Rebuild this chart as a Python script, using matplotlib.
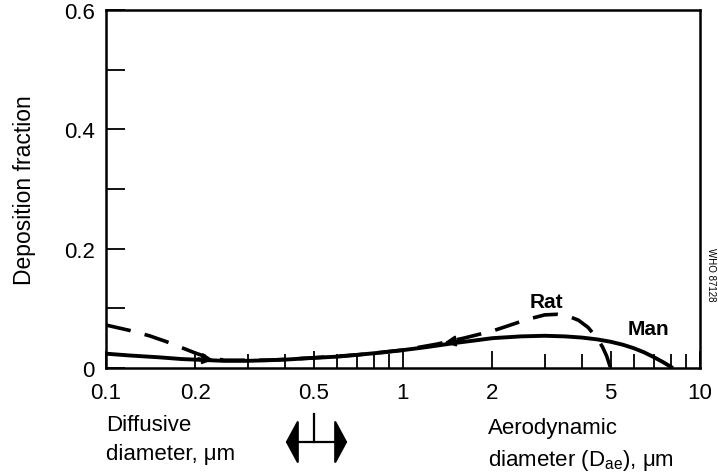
import matplotlib
matplotlib.use('Agg')
import matplotlib.pyplot as plt
import numpy as np

# ── data ──
man_d = [0.1, 0.12, 0.15, 0.18, 0.2, 0.25, 0.3, 0.35, 0.4, 0.5, 0.6, 0.7, 0.85, 1.0, 1.2, 1.5, 1.8, 2.0, 2.5,
         3.0, 3.5, 4.0, 4.5, 5.0, 5.5, 6.0, 6.5, 7.0, 7.5, 8.1]
man_f = [0.024, 0.021, 0.018, 0.015, 0.014, 0.012, 0.012, 0.013, 0.014, 0.017, 0.019, 0.022, 0.026, 0.030, 0.035,
         0.042, 0.047, 0.050, 0.053, 0.054, 0.053, 0.051, 0.048, 0.044, 0.039, 0.033, 0.026, 0.018, 0.010, 0.0]

rat_d = [0.1, 0.12, 0.14, 0.16, 0.18, 0.2, 0.22, 0.25, 0.35, 0.5, 0.7, 1.0, 1.3, 1.6, 2.0, 2.3, 2.6, 3.0, 3.3,
         3.6, 3.9, 4.2, 4.5, 4.7, 4.85, 5.0]
rat_f = [0.072, 0.063, 0.054, 0.044, 0.034, 0.025, 0.018, 0.013, 0.013, 0.017, 0.022, 0.030, 0.040, 0.050, 0.062,
         0.072, 0.081, 0.089, 0.090, 0.087, 0.080, 0.068, 0.050, 0.035, 0.020, 0.0]

xticks = [0.1, 0.2, 0.5, 1, 2, 5, 10]
xticklabels = ['0.1', '0.2', '0.5', '1', '2', '5', '10']
yticks = [0, 0.2, 0.4, 0.6]
yticklabels = ['0', '0.2', '0.4', '0.6']

plt.rcParams['font.family'] = ['Liberation Sans', 'DejaVu Sans']
plt.rcParams['mathtext.fontset'] = 'custom'
plt.rcParams['mathtext.rm'] = 'Liberation Sans'

fig = plt.figure(figsize=(7.18, 4.77), dpi=100)
ax = fig.add_axes([106 / 718, 1 - 369 / 477, 594 / 718, 358 / 477])

ax.plot(man_d, man_f, color='black', lw=2.8, solid_capstyle='butt', solid_joinstyle='round')
ax.plot(rat_d, rat_f, color='black', lw=2.6, dashes=(7, 4))

# arrow heads on the rat curve
ax.annotate('', xy=(0.235, 0.013), xytext=(0.2, 0.017),
            arrowprops=dict(arrowstyle='-|>', color='black', lw=1.5, mutation_scale=16))
ax.annotate('', xy=(1.35, 0.042), xytext=(1.6, 0.047),
            arrowprops=dict(arrowstyle='-|>', color='black', lw=1.5, mutation_scale=16))

ax.text(3.05, 0.112, 'Rat', ha='center', va='center', fontsize=15, fontweight='bold')
ax.text(6.7, 0.066, 'Man', ha='center', va='center', fontsize=15, fontweight='bold')

ax.set_xscale('log')
ax.set_xlim(0.1, 10)
ax.set_ylim(0, 0.6)
ax.set_xticks(xticks)
ax.set_xticklabels(xticklabels)
ax.set_xticks([0.3, 0.4, 0.6, 0.7, 0.8, 0.9, 3, 4, 6, 7, 8, 9], minor=True)
ax.set_yticks(yticks)
ax.set_yticklabels(yticklabels)
ax.set_yticks([0.1, 0.3, 0.5], minor=True)
ax.tick_params(axis='both', which='both', direction='in', width=1.3, labelsize=16, colors='black')
ax.tick_params(axis='y', which='both', length=14, pad=8)
ax.tick_params(axis='x', which='major', length=12, pad=10)
ax.tick_params(axis='x', which='minor', length=10)
ax.xaxis.set_minor_formatter(matplotlib.ticker.NullFormatter())
for s in ax.spines.values():
    s.set_linewidth(1.8)

ax.set_ylabel('Deposition fraction', fontsize=16.5, labelpad=20)

# text and marker below the axis
fig.text(106 / 718, 1 - 440 / 477, 'Diffusive\ndiameter, \u03bcm', ha='left', va='center',
         fontsize=16, linespacing=1.45)
fig.text(488 / 718, 1 - 446 / 477, 'Aerodynamic\ndiameter (D$_{\\rm ae}$), \u03bcm', ha='left', va='center',
         fontsize=16, linespacing=1.5)
fig.add_artist(matplotlib.patches.FancyArrowPatch((283 / 718, 1 - 443 / 477), (350 / 718, 1 - 443 / 477),
               transform=fig.transFigure, arrowstyle='<|-|>,head_length=0.35,head_width=0.65',
               mutation_scale=22, lw=1.6, color='black'))
fig.add_artist(matplotlib.lines.Line2D([314 / 718, 314 / 718], [1 - 415 / 477, 1 - 443 / 477],
               transform=fig.transFigure, color='black', lw=1.6))

fig.text(711 / 718, 1 - 275 / 477, 'WHO 87128', rotation=-90, ha='center', va='center', fontsize=7)

fig.savefig('out.png', dpi=100)
